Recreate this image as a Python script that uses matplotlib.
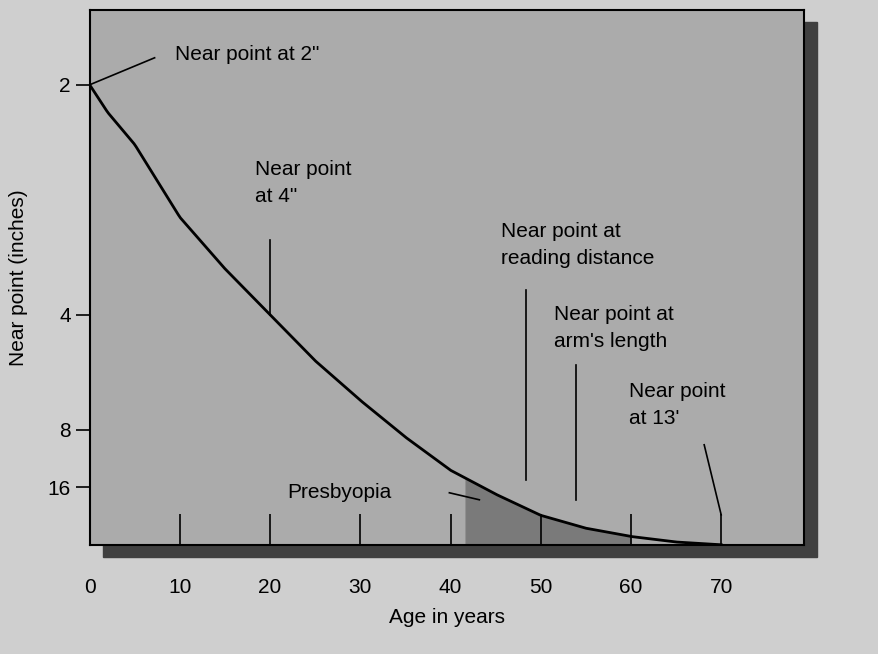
import numpy as np
import matplotlib.pyplot as plt
from matplotlib.patches import Rectangle

# near point as diopters (1/inches) vs age
ages = [0, 2, 5, 10, 15, 20, 25, 30, 35, 40, 45, 50, 55, 60, 65, 70]
diopters = [0.5, 0.47, 0.435, 0.356, 0.3, 0.25, 0.2, 0.157, 0.117, 0.081, 0.055, 0.032, 0.018, 0.009, 0.003, 0.0]
ytick_vals = [1/2, 1/4, 1/8, 1/16]
ytick_labels = ["2", "4", "8", "16"]
xticks = [0, 10, 20, 30, 40, 50, 60, 70]

plt.rcParams['font.family'] = 'Liberation Sans'
fig = plt.figure(figsize=(8.79, 6.54), dpi=100, facecolor='#cfcfcf')
# shadow behind plot
shadow = Rectangle((0.117, 0.148), 0.813, 0.818, transform=fig.transFigure,
                   color='#404040', zorder=0)
fig.patches.append(shadow)
ax = fig.add_axes([0.102, 0.167, 0.813, 0.818], facecolor='#ababab')
ax.set_zorder(2)
ax.set_xlim(0, 79.2)
ax.set_ylim(0, 0.5815)

ages_f = np.linspace(0, 70, 300)
curve = np.interp(ages_f, ages, diopters)
ax.plot(ages_f, curve, color='black', lw=2)

# presbyopia region
m = (ages_f >= 41.5) & (ages_f <= 60)
ax.fill_between(ages_f[m], 0, np.minimum(curve[m], 0.074), color='#7a7a7a')

ax.set_xticks(xticks)
ax.set_xticklabels([str(t) for t in xticks], fontsize=15)
ax.tick_params(axis='x', direction='in', length=22, width=1.2, pad=24)
ax.set_yticks(ytick_vals)
ax.set_yticklabels(ytick_labels, fontsize=15)
ax.tick_params(axis='y', direction='out', length=10, width=1.2)
for s in ax.spines.values():
    s.set_linewidth(1.5)
ax.set_xlabel("Age in years", fontsize=15, labelpad=8)
ax.set_ylabel("Near point (inches)", fontsize=15, labelpad=14)

def px(x, y):
    return ((x - 90) / 9.03, (545 - y) / 920)

notes = [
    ('Near point at 2"', (175, 55), (90, 85), (155, 58)),
    ('Near point\nat 4"', (255, 183), (270, 240), (270, 315)),
    ('Near point at\nreading distance', (502, 245), (527, 290), (527, 480)),
    ("Near point at\narm's length", (555, 328), (577, 365), (577, 500)),
    ("Near point\nat 13'", (630, 405), (705, 445), (722, 515)),
    ('Presbyopia', (288, 493), (450, 493), (480, 500)),
]
for text, t, a, b in notes:
    ax.text(*px(*t), text, fontsize=15, va='center', ha='left', linespacing=1.5)
    xa, ya = px(*a)
    xb, yb = px(*b)
    ax.plot([xa, xb], [ya, yb], color='black', lw=1.2)

fig.savefig("out.png", dpi=100, facecolor=fig.get_facecolor())
